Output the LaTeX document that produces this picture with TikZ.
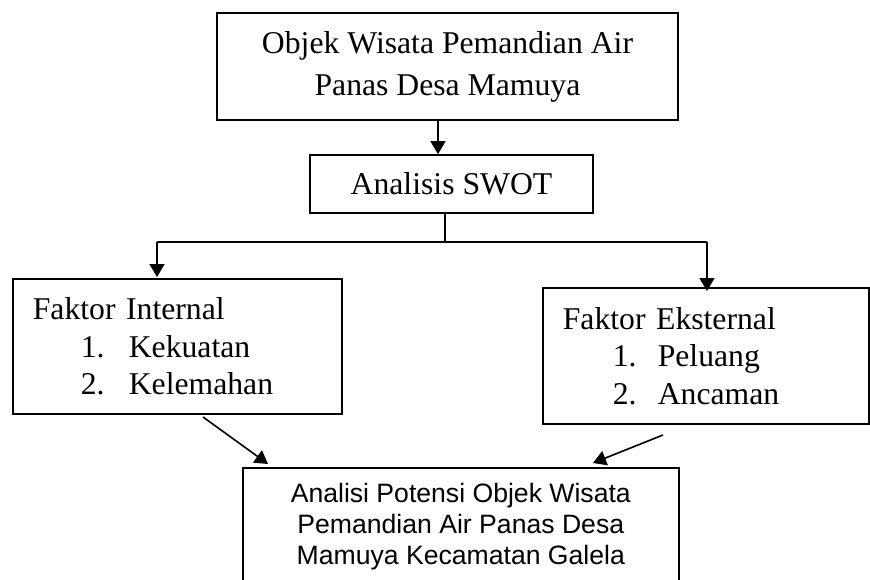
\documentclass[tikz,border=0pt]{standalone}
\usepackage{fontspec}
\setmainfont{Liberation Serif}
\newfontfamily\arialfont{Liberation Sans}
\usetikzlibrary{arrows.meta}

\begin{document}
\begin{tikzpicture}[x=1pt, y=-1pt,
  box/.style={draw, line width=1.6pt, inner sep=0pt},
  arr/.style={line width=1.6pt, -{Triangle[width=15pt,length=13pt]}},
  serifbig/.style={font=\fontsize{31.7}{42}\selectfont},
  listbox/.style={box, anchor=north west, align=left, inner xsep=20pt,
    font=\fontsize{31.7}{37.5}\selectfont}]
\useasboundingbox (0,0) rectangle (870,580);
% kotak atas
\node[box, serifbig, align=center, minimum width=461pt, minimum height=107pt] (objek) at (447.5,66.5)
  {Objek Wisata Pemandian Air\\Panas Desa Mamuya};
\node[box, font=\fontsize{31.7}{38}\selectfont, minimum width=283pt, minimum height=58pt] (swot) at (451.5,184)
  {Analisis SWOT};
% faktor internal dan eksternal
\node[listbox, text width=289pt, minimum height=135pt] (internal) at (12,278)
  {Faktor Internal\\
   \hspace*{48pt}\makebox[48pt][l]{1.}Kekuatan\\
   \hspace*{48pt}\makebox[48pt][l]{2.}Kelemahan};
\node[listbox, text width=286pt, minimum height=136pt] (eksternal) at (542,287)
  {Faktor Eksternal\\
   \hspace*{50pt}\makebox[45pt][l]{1.}Peluang\\
   \hspace*{50pt}\makebox[45pt][l]{2.}Ancaman};
% kotak hasil
\node[box, anchor=north west, align=center, minimum width=436pt, minimum height=118pt,
  font=\arialfont\fontsize{26.6}{31}\selectfont] (potensi) at (242,467)
  {Analisi Potensi Objek Wisata\\Pemandian Air Panas Desa\\Mamuya Kecamatan Galela};
% garis penghubung
\coordinate (turun) at (438,0);
\coordinate (bagi) at (445,242);
\coordinate (kiri) at (157,242);
\coordinate (kanan) at (707,242);
\coordinate (dariIn) at (203,417);
\coordinate (keIn) at (268,464);
\coordinate (dariEk) at (663,435);
\coordinate (keEk) at (593,463);
\draw[arr] (objek.south -| turun) -- (swot.north -| turun);
\draw[line width=1.6pt] (swot.south -| bagi) -- (bagi);
\draw[line width=1.6pt] (kiri) -- (kanan);
\draw[arr] (kiri) -- ([yshift=1pt]internal.north -| kiri);
\draw[arr] (kanan) -- ([yshift=-4pt]eksternal.north -| kanan);
\draw[arr] (dariIn) -- (keIn);
\draw[arr] (dariEk) -- (keEk);
\end{tikzpicture}
\end{document}
